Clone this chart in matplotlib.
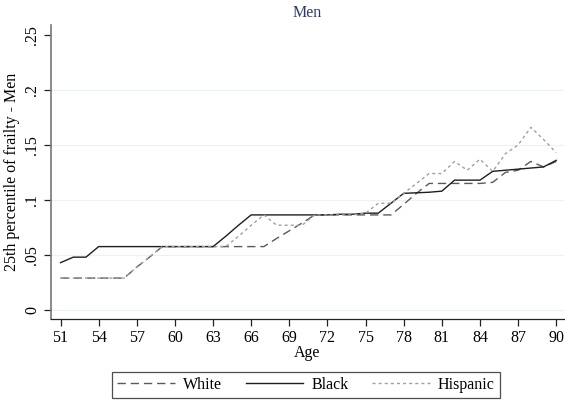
import matplotlib
matplotlib.use('Agg')
import matplotlib.pyplot as plt
import numpy as np

plt.rcParams['font.family'] = ['Liberation Serif', 'DejaVu Serif']

ages = np.arange(51, 91)

# 25th percentile of frailty, men, by age
white = [0.029, 0.029, 0.029, 0.029, 0.029, 0.029, 0.039, 0.048, 0.0576, 0.0576,
         0.0576, 0.0576, 0.0576, 0.0576, 0.0576, 0.0576, 0.0576, 0.065, 0.072, 0.079,
         0.0864, 0.0864, 0.0864, 0.0864, 0.0864, 0.0864, 0.0864, 0.096, 0.106, 0.115,
         0.115, 0.115, 0.115, 0.115, 0.116, 0.125, 0.127, 0.135, 0.130, 0.135]
black = [0.043, 0.048, 0.048, 0.0576, 0.0576, 0.0576, 0.0576, 0.0576, 0.0576, 0.0576,
         0.0576, 0.0576, 0.0576, 0.067, 0.077, 0.0864, 0.0864, 0.0864, 0.0864, 0.0864,
         0.0864, 0.0864, 0.087, 0.087, 0.088, 0.088, 0.097, 0.106, 0.1065, 0.107,
         0.108, 0.118, 0.118, 0.118, 0.126, 0.127, 0.128, 0.129, 0.130, 0.136]
hispanic = [0.029, 0.029, 0.029, 0.029, 0.029, 0.029, 0.039, 0.048, 0.0576, 0.0576,
            0.0576, 0.0576, 0.0576, 0.0576, 0.067, 0.077, 0.0864, 0.077, 0.077, 0.077,
            0.0864, 0.0864, 0.0864, 0.0864, 0.088, 0.097, 0.097, 0.106, 0.115, 0.124,
            0.124, 0.135, 0.127, 0.137, 0.126, 0.142, 0.150, 0.166, 0.155, 0.143]

xticks = list(range(51, 91, 3))
yticks = [0, 0.05, 0.1, 0.15, 0.2, 0.25]
ylabels = ['0', '.05', '.1', '.15', '.2', '.25']

fig = plt.figure(figsize=(5.65, 4.03), dpi=100)
ax = fig.add_axes([51/565, 1-319/403, 1-51/565-0.002, (319-25)/403])

for yv in yticks[:-1]:
    ax.axhline(yv, color='#eaf2f3', lw=0.9, zorder=0)

l1, = ax.plot(ages, white, color='#5a5a5a', lw=1.0, dashes=(6, 3.5), label='White')
l2, = ax.plot(ages, black, color='#1e1e1e', lw=1.0, label='Black')
l3, = ax.plot(ages, hispanic, color='#a0a0a0', lw=1.0, dashes=(2.2, 2.2), label='Hispanic')

ax.set_xlim(50.25, 90.6)
ax.set_ylim(-0.0082, 0.259)
ax.set_xticks(xticks)
ax.set_yticks(yticks)
ax.set_yticklabels(ylabels, rotation=90, va='center')
ax.tick_params(labelsize=11.5, length=5, width=0.9, color='#222222', pad=3)

for s in ['top', 'right']:
    ax.spines[s].set_visible(False)
ax.spines['left'].set_color('#777777')
ax.spines['left'].set_linewidth(1.2)
ax.spines['bottom'].set_color('#222222')
ax.spines['bottom'].set_linewidth(0.9)

ax.set_xlabel('Age', fontsize=11.5, labelpad=-1)
ax.set_ylabel('25th percentile of frailty - Men', fontsize=11.5, labelpad=3)
ax.set_title('Men', fontsize=11.5, color='#2b3a6b', pad=6)

leg = fig.legend(handles=[l1, l2, l3], loc='center', bbox_to_anchor=(306/565, 1-385/403),
                 ncol=3, fontsize=11.5, frameon=True, fancybox=False,
                 edgecolor='#222222', handlelength=3.6, columnspacing=1.5,
                 borderpad=0.3, handletextpad=0.5)
leg.get_frame().set_linewidth(0.9)

fig.savefig('out.png', dpi=100)
